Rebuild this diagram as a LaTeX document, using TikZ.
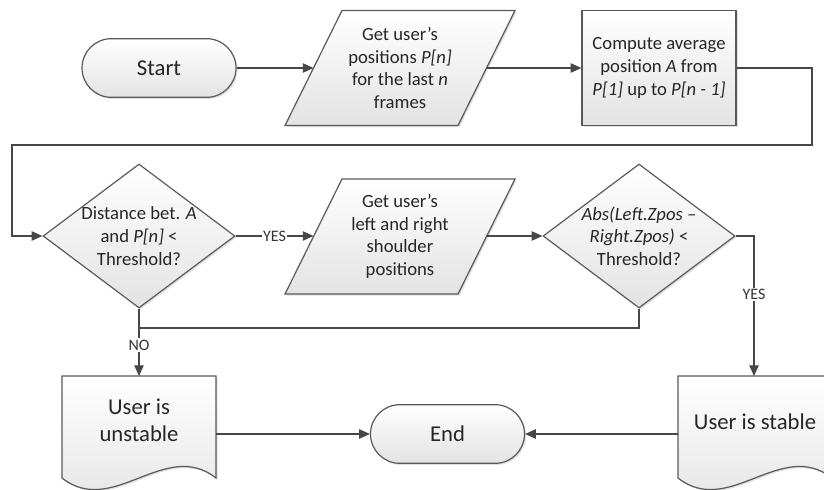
\documentclass[tikz,border=0pt]{standalone}
\usepackage{fontspec}
\setmainfont{Carlito}
\usetikzlibrary{arrows.meta,shapes.geometric,shapes.misc,shadows}

\begin{document}
\begin{tikzpicture}[x=0.75pt,y=-0.75pt,
  shape line/.style={draw=black!65, line width=0.9pt, top color=white, bottom color=black!11,
    drop shadow={shadow xshift=1.2pt, shadow yshift=-1.2pt, fill=black, opacity=0.12}},
  flow/.style={draw=black!72, line width=0.9pt, -{Triangle[length=8pt,width=7pt]}},
  plain line/.style={draw=black!72, line width=0.9pt},
  body/.style={font=\fontsize{14}{17}\selectfont, align=center, text=black!85, inner sep=0pt},
  big/.style={font=\fontsize{17}{20.5}\selectfont, align=center, text=black!85, inner sep=0pt},
  lbl/.style={font=\fontsize{12}{14}\selectfont, fill=white, inner sep=1pt, text=black!80},
  terminal/.style={rounded rectangle, minimum width=115.5pt, minimum height=44pt, shape line, big},
  process/.style={rectangle, minimum width=115.5pt, minimum height=86.25pt, shape line, body},
  decision/.style={diamond, minimum width=144pt, minimum height=108pt, inner sep=0pt, shape line},
]
\useasboundingbox (0,0) rectangle (824,489);

% --- top row ---
\node[terminal] (start) at (159,68) {Start};

\path[shape line] (342,10.5) -- (515,10.5) -- (458,125.5) -- (285,125.5) -- cycle;
\node[body] (getpos) at (400,68) {Get user’s\\positions \textit{P[n]}\\for the last \textit{n}\\frames};
\coordinate (getpos-in)  at (313.5,68);
\coordinate (getpos-out) at (486.5,68);

\node[process] (avg) at (659,68) {Compute average\\position \textit{A} from\\\textit{P[1]} up to \textit{P[n - 1]}};

\coordinate (loopR) at (812,145);
\coordinate (loopL) at (12,145);

% --- middle row ---
\node[decision] (near) at (139,236) {};
\node[body] (near-text) at (139,236) {Distance bet. \textit{A}\\and \textit{P[n]} <\\Threshold?};

\path[shape line] (342,179) -- (515,179) -- (458,294) -- (285,294) -- cycle;
\node[body] (shoulders) at (400,236.5) {Get user’s\\left and right\\shoulder\\positions};
\coordinate (shoulders-in)  at (313.5,236);
\coordinate (shoulders-out) at (486.5,236);

\node[decision] (level) at (639,236) {};
\node[body] (level-text) at (639,236) {\textit{Abs(Left.Zpos –}\\\textit{Right.Zpos)} <\\Threshold?};

\coordinate (merge) at (139,328);

% --- bottom row ---
\path[shape line] (62,376) -- (216,376) -- (216,478)
  .. controls (165,438) and (113,518) .. (62,478) -- cycle;
\node[big] (unstable) at (139,420.5) {User is\\unstable};
\coordinate (unstable-top) at (139,376);
\coordinate (unstable-out) at (216,434);

\node[terminal] (end) at (447.5,434) {End};

\path[shape line] (678,376) -- (832,376) -- (832,478)
  .. controls (781,438) and (729,518) .. (678,478) -- cycle;
\node[big] (stable) at (755,422) {User is stable};
\coordinate (stable-top) at (754,376);
\coordinate (stable-in)  at (678,434);

% --- connectors ---
\draw[flow] (start.east) -- (getpos-in);
\draw[flow] (getpos-out) -- (avg.west);
\draw[flow] (avg.east) -| (loopR) -- (loopL) |- (near.west);
\draw[flow] (near.east) -- node[lbl]{YES} (shoulders-in);
\draw[flow] (shoulders-out) -- (level.west);
\draw[flow] (level.east) -| node[lbl, pos=0.71]{YES} (stable-top);
\draw[plain line] (level.south) |- (merge);
\draw[flow] (near.south) -- node[lbl, pos=0.54]{NO} (unstable-top);
\draw[flow] (unstable-out) -- (end.west);
\draw[flow] (stable-in) -- (end.east);
\end{tikzpicture}
\end{document}
